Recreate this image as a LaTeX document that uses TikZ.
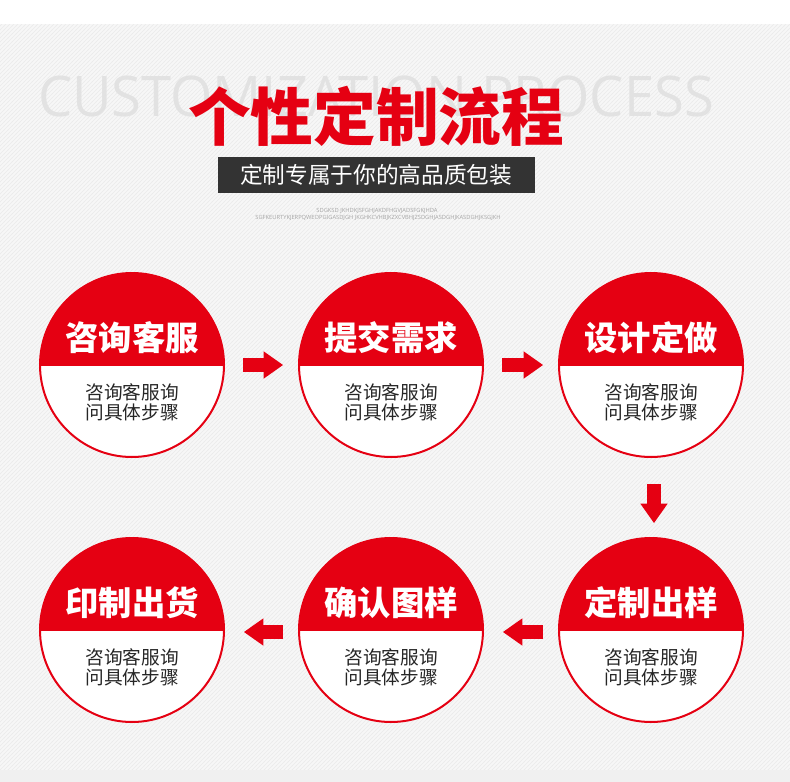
\documentclass[tikz,border=0pt]{standalone}
\usepackage{fontspec}
\usetikzlibrary{arrows.meta,patterns,calc}
\newfontfamily\cjk{Noto Sans CJK SC}
\newfontfamily\latinsans{Open Sans}
\definecolor{brandred}{HTML}{E50012}
\definecolor{bggray}{HTML}{F7F7F7}
\definecolor{stripegray}{HTML}{EAEAEA}
\definecolor{bottomgray}{HTML}{F0F0F0}
\definecolor{ghost}{HTML}{E2E2E2}
\definecolor{barcolor}{HTML}{333333}
\begin{document}
\begin{tikzpicture}[x=0.75pt,y=-0.75pt,
  stepcircle/.style={circle, draw=brandred, line width=1.5pt, fill=white, minimum size=138pt, inner sep=0pt},
  steptitle/.style={text=white, font=\cjk\bfseries\fontsize{25pt}{28pt}\selectfont},
  stepbody/.style={text=black!85, align=center, font=\cjk\fontsize{14pt}{15pt}\selectfont},
  flowarrow/.style={draw=brandred, line width=10.5pt, -{Triangle[length=14.5pt, width=20.5pt, line width=0pt]}},
  tinytext/.style={text=black!35, font=\latinsans\fontsize{4.3pt}{5pt}\selectfont}
]
\useasboundingbox (0,0) rectangle (790,782);
% background
\fill[white] (0,0) rectangle (790,24);
\fill[bggray] (0,24) rectangle (790,770);
\fill[pattern=north east lines, pattern color=stripegray] (0,24) rectangle (790,770);
\fill[bottomgray] (0,770) rectangle (790,782);

% header
\node[text=ghost, font=\latinsans\fontsize{42pt}{44pt}\selectfont, xscale=0.97] (ghosttext) at (376,96) {CUSTOMIZATION PROCESS};
\node[text=brandred, font=\cjk\bfseries\fontsize{47pt}{50pt}\selectfont] (title) at (376,116) {个性定制流程};
\fill[barcolor] (218,157) rectangle (535,193);
\node[text=white, font=\cjk\fontsize{17pt}{19pt}\selectfont] (subtitle) at (376,175) {定制专属于你的高品质包装};
\node[tinytext] (tiny1) at (377,211) {SDGKSD JKHDKJSFGHJAKDFHGVJADSFGKJHDA};
\node[tinytext] (tiny2) at (378,218) {SGFKEURTYKJERPQWEOPGIGASDJGH JKGHKCVHBJKZXCVBHJZSDGHJASDGHJKASDGHJKSGJKH};

% circles
\foreach \name/\cx/\cy/\head in {c1/132/365/咨询客服, c2/391/365/提交需求, c3/651/365/设计定做, c4/132/630/印制出货, c5/391/630/确认图样, c6/651/630/定制出样}{
  \node[stepcircle] (\name) at (\cx,\cy) {};
  \begin{scope}
    \clip (\name.center) circle[radius=69pt];
    \fill[brandred] ($(\name.center)+(-100,-100)$) rectangle ($(\name.center)+(100,1)$);
  \end{scope}
  \node[steptitle] (\name-title) at ($(\name.center)+(0,-27)$) {\head};
  \node[stepbody] (\name-body) at ($(\name.center)+(0,37)$) {咨询客服询\\问具体步骤};
}

% connectors
\draw[flowarrow, shorten <=13.5pt, shorten >=11.25pt] (c1) -- (c2);
\draw[flowarrow, shorten <=13.5pt, shorten >=11.25pt] (c2) -- (c3);
\draw[flowarrow, shorten <=19.5pt, shorten >=10.5pt] ([xshift=2.25pt]c3.south) -- ([xshift=2.25pt]c6.north);
\draw[flowarrow, shorten <=11.25pt, shorten >=14.25pt] ([yshift=-1.5pt]c6.west) -- ([yshift=-1.5pt]c5.east);
\draw[flowarrow, shorten <=11.25pt, shorten >=14.25pt] ([yshift=-1.5pt]c5.west) -- ([yshift=-1.5pt]c4.east);
\end{tikzpicture}
\end{document}
